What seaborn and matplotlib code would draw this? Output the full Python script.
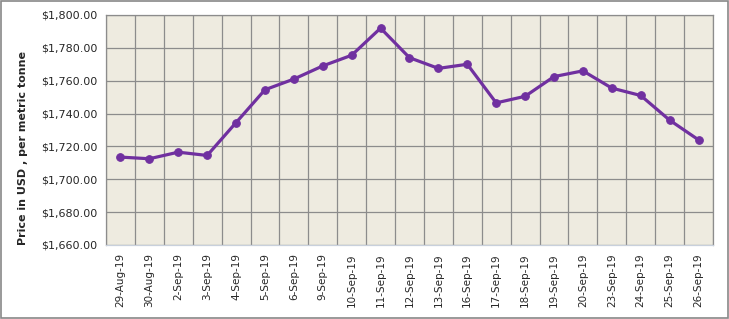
import numpy as np
import pandas as pd
import matplotlib.pyplot as plt
import seaborn as sns
from matplotlib.ticker import FuncFormatter, MultipleLocator
from matplotlib.patches import Rectangle

dates = ["29-Aug-19", "30-Aug-19", "2-Sep-19", "3-Sep-19", "4-Sep-19", "5-Sep-19",
         "6-Sep-19", "9-Sep-19", "10-Sep-19", "11-Sep-19", "12-Sep-19", "13-Sep-19",
         "16-Sep-19", "17-Sep-19", "18-Sep-19", "19-Sep-19", "20-Sep-19", "23-Sep-19",
         "24-Sep-19", "25-Sep-19", "26-Sep-19"]
prices = [1713.5, 1712.5, 1716.5, 1714.5, 1734.5, 1754.5, 1761.0, 1769.0, 1775.5,
          1792.0, 1774.0, 1767.5, 1770.0, 1746.5, 1750.5, 1762.5, 1766.0, 1755.5,
          1751.0, 1736.0, 1724.0]

df = pd.DataFrame({"date": dates, "price": prices, "pos": np.arange(len(dates))})

sns.set_style("white")
plt.rcParams['font.family'] = ['DejaVu Sans']

fig = plt.figure(figsize=(7.29, 3.19), dpi=100)
ax = fig.add_axes([0.1454, 0.232, 0.8326, 0.721])
ax.set_facecolor("#EEEBE0")

sns.lineplot(data=df, x="pos", y="price", ax=ax, color="#7030A0", linewidth=2.3,
             marker="o", markersize=5.5, markeredgecolor="#7030A0", zorder=3)

ax.set_xlim(-0.5, len(dates) - 0.5)
ax.set_ylim(1660, 1800)
ax.set_xticks(df["pos"])
ax.set_xticklabels(dates, rotation=90, fontsize=7.5)
ax.xaxis.set_minor_locator(MultipleLocator(1, offset=0.5))
ax.yaxis.set_major_locator(MultipleLocator(20))
ax.yaxis.set_major_formatter(FuncFormatter(lambda v, p: f"${v:,.2f}"))
ax.tick_params(axis="y", labelsize=8, length=0, pad=6)
ax.tick_params(axis="x", which="both", length=0, pad=6)
ax.grid(True, axis="y", which="major", color="#8C8C8C", linewidth=0.9)
ax.grid(True, axis="x", which="minor", color="#8C8C8C", linewidth=0.9)
ax.grid(False, axis="x", which="major")
ax.set_axisbelow(True)

for side, sp in ax.spines.items():
    sp.set_visible(True)
    sp.set_color("#8C8C8C")
    sp.set_linewidth(0.9)
ax.spines["bottom"].set_color("#C8D0DC")

ax.set_xlabel("")
ax.set_ylabel("Price in USD , per metric tonne", fontsize=8, fontweight="bold", labelpad=8)
ax.yaxis.set_label_coords(-0.128, 0.42)

fig.patches.append(Rectangle((0.002, 0.004), 0.996, 0.992, transform=fig.transFigure,
                             fill=False, edgecolor="#888888", linewidth=1.2))

fig.savefig("out.png", dpi=100)
